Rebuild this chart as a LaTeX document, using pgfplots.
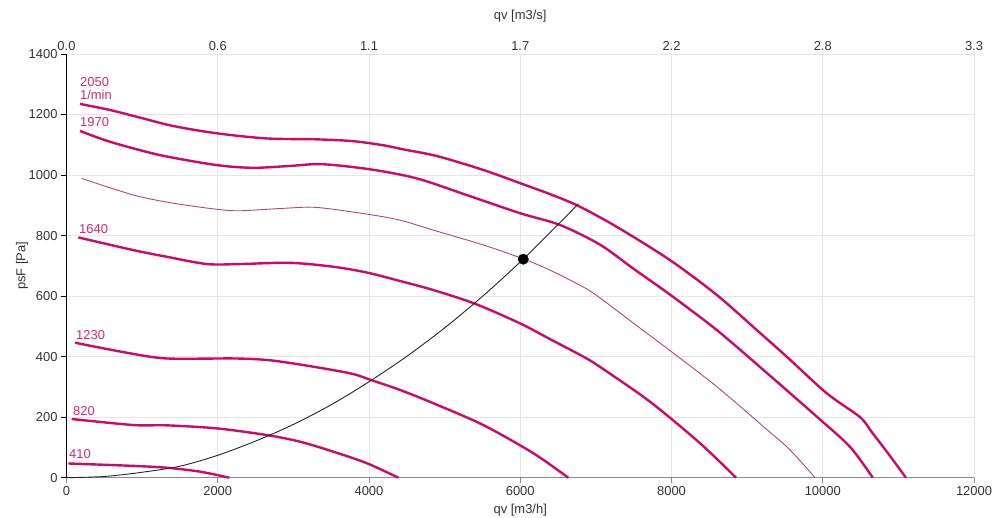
\documentclass[border=0pt]{standalone}
\usepackage{pgfplots}
\pgfplotsset{compat=1.18}
\usepackage{fontspec}
\setmainfont{Liberation Sans}
\definecolor{curve}{RGB}{205,10,105}
\definecolor{lbl}{RGB}{210,40,120}
\definecolor{opcol}{RGB}{175,70,130}
\definecolor{gridc}{RGB}{229,229,229}
\definecolor{tickc}{RGB}{51,51,51}

\pgfplotstableread{
x y
178 1235
575 1215
1000 1188
1412 1162
1986 1138
2647 1121
3308 1118
3790 1112
4200 1098
4450 1085
4895 1063
5510 1017
6000 973
6393 937
6768 898
7275 829
7980 719
8598 604
9127 488
9523 400
10052 279
10493 200
10650 150
10850 85
11100 0
}\rpmA

\pgfplotstableread{
x y
178 1146
575 1110
1236 1066
1986 1033
2466 1024
2950 1030
3375 1036
4013 1019
4631 989
5292 934
5997 874
6526 835
7055 770
7500 690
7980 605
8598 488
9215 356
9920 202
10360 102
10661 0
}\rpmB

\pgfplotstableread{
x y
201 989
884 934
1412 907
1986 887
2294 882
2867 890
3308 893
3970 871
4410 851
4851 818
5511 769
6040 723
6393 686
6834 630
7055 594
7500 510
7980 420
8598 301
9215 169
9567 92
9898 0
}\rpmOp

\pgfplotstableread{
x y
156 794
884 752
1325 730
1854 706
2294 706
2956 710
3528 697
3970 678
4410 650
4851 620
5400 575
5997 510
6393 458
6834 400
7055 366
7716 251
8377 114
8853 0
}\rpmC

\pgfplotstableread{
x y
112 446
796 413
1325 394
2206 394
2647 389
3088 374
3749 345
4035 322
4410 290
4851 246
5511 174
6172 81
6635 0
}\rpmD

\pgfplotstableread{
x y
69 194
884 174
1325 173
1986 163
2647 141
3088 119
3528 86
3970 48
4388 0
}\rpmE

\pgfplotstableread{
x y
24 47
884 39
1325 33
1766 20
2153 0
}\rpmF

\pgfplotstableread{
x y
0 0
500 4
1000 18
1500 38
2000 74
2500 121
3000 176
3500 241
4000 317
4500 401
5000 495
5500 599
6000 713
6500 837
6770 905
}\syscurve

\begin{document}
\begin{tikzpicture}
\useasboundingbox (-66.5bp,-40.3bp) rectangle (929.5bp,477.7bp);
\begin{axis}[
  at={(0,0)}, anchor=south west,
  scale only axis, width=907.5bp, height=423.7bp,
  xmin=0, xmax=12000, ymin=0, ymax=1400,
  xtick={0,2000,...,12000}, ytick={0,200,...,1400},
  scaled x ticks=false, scaled y ticks=false,
  /pgf/number format/assume math mode=true,
  /pgf/number format/set thousands separator={},
  axis x line*=bottom, axis y line*=left,
  x axis line style={draw=gray!90, line width=1.3bp, -},
  y axis line style={draw=black, line width=0.9bp, -},
  xtick style={draw=gray!90, line width=1bp},
  ytick style={draw=black, line width=0.9bp},
  tick align=outside, major tick length=5.5bp,
  grid=major, major grid style={draw=gridc, line width=0.8bp},
  tick label style={font=\fontsize{13}{15}\selectfont, text=tickc},
  label style={font=\fontsize{13}{15}\selectfont, text=tickc},
  xlabel={qv [m3/h]}, ylabel={psF [Pa]},
  xlabel style={at={(axis description cs:0.5,0)}, anchor=base, yshift=-35.3bp},
  ylabel style={at={(axis description cs:-0.049,0.5)}, anchor=center},
  clip=false,
]
\addplot[curve, line width=2.4bp, smooth, tension=0.5] table {\rpmA};
\addplot[curve, line width=2.4bp, smooth, tension=0.5] table {\rpmB};
\addplot[opcol, line width=0.9bp, smooth, tension=0.5] table {\rpmOp};
\addplot[curve, line width=2.4bp, smooth, tension=0.5] table {\rpmC};
\addplot[curve, line width=2.4bp, smooth, tension=0.5] table {\rpmD};
\addplot[curve, line width=2.4bp, smooth, tension=0.5] table {\rpmE};
\addplot[curve, line width=2.4bp, smooth, tension=0.5] table {\rpmF};
\addplot[black!85, line width=0.9bp, smooth] table {\syscurve};
\addplot[only marks, mark=*, mark size=5.2bp, black] coordinates {(6040,722)};
\begin{scope}[every node/.style={font=\fontsize{13}{15}\selectfont, text=lbl, inner sep=0pt, anchor=base west}]
\node at (axis cs:178,1291) {2050};
\node at (axis cs:178,1248) {1/min};
\node at (axis cs:178,1159) {1970};
\node at (axis cs:165,808) {1640};
\node at (axis cs:126,458) {1230};
\node at (axis cs:86,207) {820};
\node at (axis cs:33,62) {410};
\end{scope}
\end{axis}
\begin{axis}[
  at={(0,0)}, anchor=south west,
  scale only axis, width=907.5bp, height=423.7bp,
  xmin=0, xmax=12000, ymin=0, ymax=1400,
  scaled x ticks=false,
  axis x line*=top, hide y axis,
  x axis line style={draw=none},
  xtick={0,2000,...,12000},
  xticklabels={0.0,0.6,1.1,1.7,2.2,2.8,3.3},
  major tick length=0pt,
  tick label style={font=\fontsize{13}{15}\selectfont, text=tickc},
  label style={font=\fontsize{13}{15}\selectfont, text=tickc},
  xlabel={qv [m3/s]},
  xlabel style={at={(axis description cs:0.5,1)}, anchor=base, yshift=34.5bp},
]
\addplot[draw=none] coordinates {(0,0)};
\end{axis}
\end{tikzpicture}
\end{document}
